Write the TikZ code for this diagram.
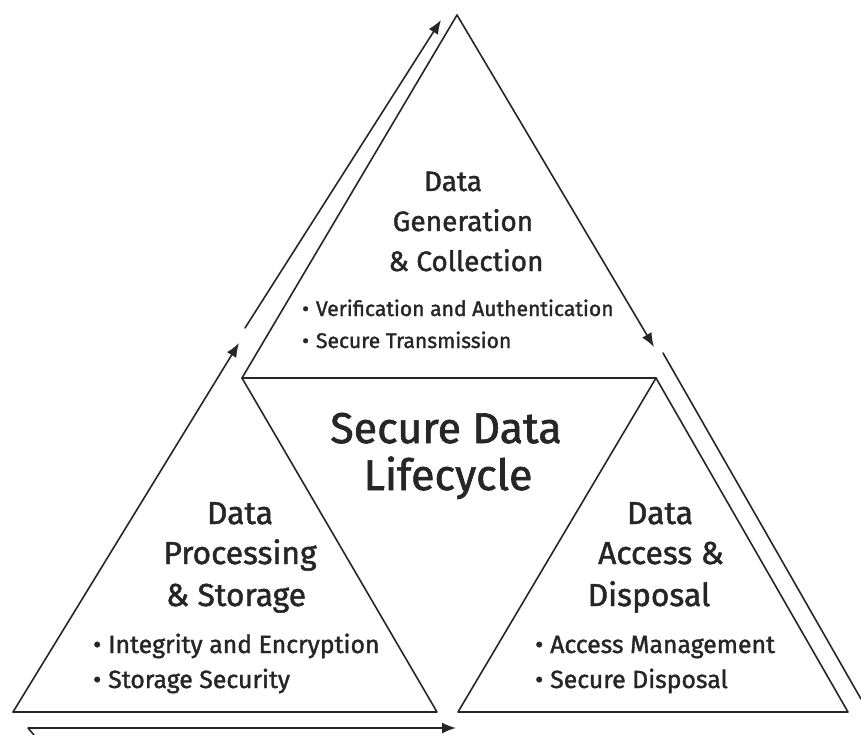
\documentclass[tikz,border=0pt]{standalone}
\usepackage{fontspec}
\setmainfont{Fira Sans}[FakeBold=1.5]
\usetikzlibrary{arrows.meta}
\definecolor{ink}{HTML}{262626}
\begin{document}
\begin{tikzpicture}[x=1pt,y=-1pt,
  edge/.style={draw=ink, line width=1.6pt, line cap=round, line join=round},
  arr/.style={edge, -{Latex[length=14pt,width=11pt]}},
  headT/.style={text=ink, font=\fontsize{28}{32}\selectfont, anchor=base, inner sep=0pt},
  head/.style={text=ink, font=\fontsize{31.8}{36}\selectfont, anchor=base, inner sep=0pt},
  big/.style={text=ink, font=\fontsize{43}{48}\selectfont, anchor=base, inner sep=0pt},
  itemT/.style={text=ink, font=\fontsize{21.1}{24}\selectfont, anchor=base west, inner sep=0pt},
  item/.style={text=ink, font=\fontsize{24.8}{28}\selectfont, anchor=base west, inner sep=0pt}]
\useasboundingbox (0,0) rectangle (861,735);
% corners
\coordinate (T) at (457,15);
\coordinate (TL) at (242,378);
\coordinate (TR) at (656,378);
\coordinate (TRa) at (654,347);
\coordinate (LBL) at (13,712);
\coordinate (LBR) at (437,712);
\coordinate (LA) at (239,343);
\coordinate (RBL) at (458,712);
\coordinate (RBR) at (848,712);
\coordinate (OA1) at (245,328);
\coordinate (OA2) at (441,20);
\coordinate (OR1) at (663,353);
\coordinate (OR2) at (861,699);
\coordinate (B0) at (34,735);
\coordinate (B1) at (28,728);
\coordinate (B2) at (456,728);
% top triangle
\draw[edge] (TL) -- (T);
\draw[arr] (T) -- (TRa);
\draw[edge] (TL) -- (TR);
% outer arrows
\draw[arr] (OA1) -- (OA2);
\draw[edge] (OR1) -- (OR2);
\draw[arr] (B0) -- (B1) -- (B2);
% left triangle
\draw[arr] (LBL) -- (LA);
\draw[edge] (TL) -- (LBR) -- (LBL);
% right triangle
\draw[edge] (RBL) -- (TR) -- (RBR) -- cycle;
% texts
\node[headT] (g1) at (453,191) {Data};
\node[headT] (g2) at (463,231) {Generation};
\node[headT] (g3) at (466,271) {\& Collection};
\node[itemT] (g4) at (302,316) {•\hspace{7pt}Verification and Authentication};
\node[itemT] (g5) at (302,348) {•\hspace{7pt}Secure Transmission};
\node[big] (s1) at (446,443) {Secure Data};
\node[big] (s2) at (448,490) {Lifecycle};
\node[head] (p1) at (240,524) {Data};
\node[head] (p2) at (240,564) {Processing};
\node[head] (p3) at (236,606) {\& Storage};
\node[item] (p4) at (93,653) {•\hspace{7pt}Integrity and Encryption};
\node[item] (p5) at (93,688) {•\hspace{7pt}Storage Security};
\node[head] (a1) at (660,524) {Data};
\node[head] (a2) at (661,564) {Access \&};
\node[head] (a3) at (649,606) {Disposal};
\node[item] (a4) at (535,653) {•\hspace{7pt}Access Management};
\node[item] (a5) at (535,688) {•\hspace{7pt}Secure Disposal};
\end{tikzpicture}
\end{document}
